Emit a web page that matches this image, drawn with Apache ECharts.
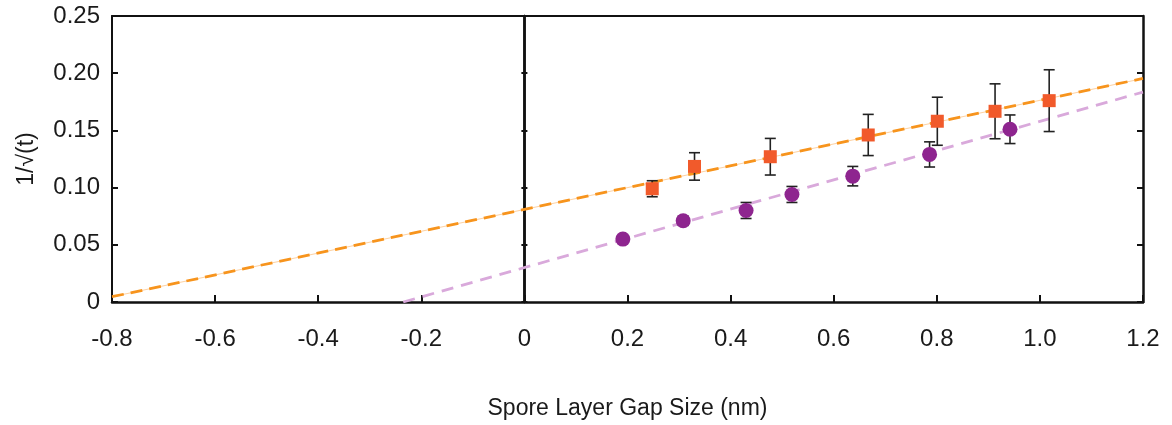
<!DOCTYPE html>
<html>
<head>
<meta charset="utf-8">
<script src="https://cdn.jsdelivr.net/npm/echarts@6/dist/echarts.min.js"></script>
<style>
  html, body { margin: 0; padding: 0; background: #fff; }
  #main { width: 1172px; height: 425px; }
</style>
</head>
<body>
<div id="main"></div>
<script>
// values
const orangeX = [0.248, 0.330, 0.477, 0.667, 0.801, 0.913, 1.018];
const orangeY = [0.099, 0.1185, 0.127, 0.146, 0.158, 0.1667, 0.176];
const orangeErr = [0.007, 0.012, 0.016, 0.018, 0.021, 0.024, 0.027];

const purpleX = [0.191, 0.308, 0.430, 0.519, 0.637, 0.786, 0.942];
const purpleY = [0.055, 0.071, 0.080, 0.094, 0.110, 0.129, 0.151];
const purpleErr = [0.002, 0.004, 0.007, 0.007, 0.0085, 0.011, 0.0125];

// fitted lines, end points
const orangeFit = [[-0.8, 0.0046], [1.2, 0.1954]];
const purpleFit = [[-0.235, 0], [1.2, 0.1835]];

const xTicks = { min: -0.8, max: 1.2, step: 0.2 };
const yTicks = { min: 0, max: 0.25, step: 0.05 };

const font = 'Liberation Sans, Arial, sans-serif';
const ink = '#1a1a1a';

const points = (xs, ys) => xs.map((x, i) => [x, ys[i]]);
const bars = (xs, ys, es) => xs.map((x, i) => [x, ys[i] - es[i], ys[i] + es[i]]);

// error bars: vertical line + caps
function errorBar(params, api) {
  const lo = api.coord([api.value(0), api.value(1)]);
  const hi = api.coord([api.value(0), api.value(2)]);
  const w = 5.5;
  const style = { stroke: '#222', lineWidth: 1.6 };
  return {
    type: 'group',
    children: [
      { type: 'line', shape: { x1: lo[0], y1: lo[1], x2: hi[0], y2: hi[1] }, style },
      { type: 'line', shape: { x1: lo[0] - w, y1: lo[1], x2: lo[0] + w, y2: lo[1] }, style },
      { type: 'line', shape: { x1: hi[0] - w, y1: hi[1], x2: hi[0] + w, y2: hi[1] }, style }
    ]
  };
}

const chart = echarts.init(document.getElementById('main'));

const fmtX = v => Math.abs(v) < 1e-9 ? '0' : v.toFixed(1);
const fmtY = v => Math.abs(v) < 1e-9 ? '0' : v.toFixed(2);

const option = {
  animation: false,
  backgroundColor: '#fff',
  grid: { left: 112, right: 29, top: 16, bottom: 122, containLabel: false },
  xAxis: [
    {
      type: 'value',
      min: xTicks.min, max: xTicks.max, interval: xTicks.step,
      position: 'bottom',
      name: 'Spore Layer Gap Size (nm)',
      nameLocation: 'middle',
      nameGap: 95,
      nameTextStyle: { fontFamily: font, fontSize: 23, color: ink },
      axisLine: { onZero: false, lineStyle: { color: '#111', width: 2.5 } },
      axisTick: { inside: true, length: 7, lineStyle: { color: '#111', width: 2 } },
      axisLabel: { formatter: fmtX, fontFamily: font, fontSize: 24, color: ink, margin: 25 },
      splitLine: { show: false }
    },
    {
      type: 'value',
      min: xTicks.min, max: xTicks.max, interval: xTicks.step,
      position: 'top',
      axisLine: { onZero: false, lineStyle: { color: '#111', width: 2 } },
      axisTick: { show: false },
      axisLabel: { show: false },
      splitLine: { show: false }
    }
  ],
  yAxis: [
    {
      type: 'value',
      min: yTicks.min, max: yTicks.max, interval: yTicks.step,
      position: 'left',
      name: '1/√(t)',
      nameLocation: 'middle',
      nameRotate: 90,
      nameGap: 74,
      nameTextStyle: { fontFamily: font, fontSize: 23, color: ink },
      axisLine: { onZero: false, lineStyle: { color: '#111', width: 2 } },
      axisTick: { inside: true, length: 6, lineStyle: { color: '#111', width: 2 } },
      axisLabel: { formatter: fmtY, fontFamily: font, fontSize: 24, color: ink, margin: 12 },
      splitLine: { show: false }
    },
    {
      type: 'value',
      min: yTicks.min, max: yTicks.max, interval: yTicks.step,
      position: 'right',
      axisLine: { onZero: false, lineStyle: { color: '#111', width: 2.5 } },
      axisTick: { inside: true, length: 6, lineStyle: { color: '#111', width: 2 } },
      axisLabel: { show: false },
      splitLine: { show: false }
    },
    {
      // line at x = 0, ticks on both sides
      type: 'value',
      min: yTicks.min, max: yTicks.max, interval: yTicks.step,
      position: 'left',
      axisLine: { onZero: true, onZeroAxisIndex: 0, lineStyle: { color: '#111', width: 2.5 } },
      axisTick: { inside: true, length: 3, lineStyle: { color: '#111', width: 2 } },
      axisLabel: { show: false },
      splitLine: { show: false }
    },
    {
      type: 'value',
      min: yTicks.min, max: yTicks.max, interval: yTicks.step,
      position: 'left',
      axisLine: { onZero: true, onZeroAxisIndex: 0, lineStyle: { color: '#111', width: 2.5 } },
      axisTick: { inside: false, length: 3, lineStyle: { color: '#111', width: 2 } },
      axisLabel: { show: false },
      splitLine: { show: false }
    }
  ],
  series: [
    {
      type: 'line', data: orangeFit, symbol: 'none', z: 2,
      lineStyle: { color: '#fdd3a6', width: 1.2 }
    },
    {
      type: 'line', data: orangeFit, symbol: 'none', z: 3,
      lineStyle: { color: '#f7941d', width: 2.8, type: [12, 7] }
    },
    {
      type: 'line', data: purpleFit, symbol: 'none', z: 3,
      lineStyle: { color: '#d9a9db', width: 2.8, type: [12, 8] }
    },
    {
      type: 'custom', renderItem: errorBar, z: 4,
      data: bars(orangeX, orangeY, orangeErr)
    },
    {
      type: 'custom', renderItem: errorBar, z: 4,
      data: bars(purpleX, purpleY, purpleErr)
    },
    {
      type: 'scatter', data: points(orangeX, orangeY), z: 5,
      symbol: 'rect', symbolSize: 13,
      itemStyle: { color: '#f15a2b', opacity: 1 }
    },
    {
      type: 'scatter', data: points(purpleX, purpleY), z: 5,
      symbol: 'circle', symbolSize: 15,
      itemStyle: { color: '#8e258f', opacity: 1 }
    }
  ]
};

chart.setOption(option);
</script>
</body>
</html>
